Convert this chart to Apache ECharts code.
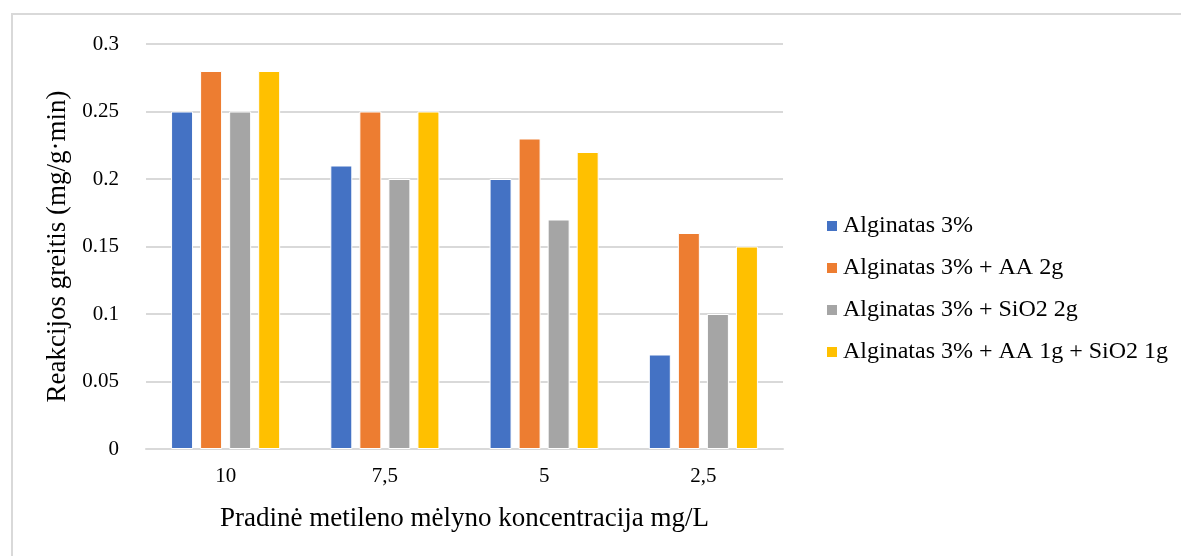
<!DOCTYPE html>
<html><head><meta charset="utf-8">
<script src="https://cdn.jsdelivr.net/npm/echarts@6/dist/echarts.min.js"></script>
<style>
html,body{margin:0;padding:0;background:#fff;}
#frame{position:absolute;left:11px;top:13px;width:1170px;height:543px;border-top:2px solid #d9d9d9;border-left:2px solid #d9d9d9;box-sizing:border-box;}
#c{position:absolute;left:0;top:0;width:1181px;height:556px;}
</style></head>
<body>
<div id="frame"></div>
<div id="c"></div>
<script>
const categories = ['10', '7,5', '5', '2,5'];
const seriesNames = ['Alginatas 3%', 'Alginatas 3% + AA 2g', 'Alginatas 3% + SiO2 2g', 'Alginatas 3% + AA 1g + SiO2 1g'];
const alg = [0.25, 0.21, 0.20, 0.07];
const algAA = [0.28, 0.25, 0.23, 0.16];
const algSi = [0.25, 0.20, 0.17, 0.10];
const algAASi = [0.28, 0.25, 0.22, 0.15];
const colors = ['#4472c4', '#ed7d31', '#a5a5a5', '#ffc000'];
const values = [alg, algAA, algSi, algAASi];

const font = 'Liberation Serif';
const chart = echarts.init(document.getElementById('c'));
chart.setOption({
  animation: false,
  color: colors,
  textStyle: {fontFamily: font, color: '#000'},
  grid: {left: 146, right: 398, top: 44, bottom: 107},
  legend: {
    orient: 'vertical', left: 825, top: 214, padding: 0,
    itemWidth: 12, itemHeight: 12, itemGap: 18,
    icon: 'rect',
    textStyle: {fontFamily: font, fontSize: 24, color: '#000'},
    data: seriesNames
  },
  xAxis: {
    type: 'category', data: categories,
    name: 'Pradinė metileno mėlyno koncentracija mg/L',
    nameLocation: 'middle', nameGap: 56,
    nameTextStyle: {fontFamily: font, fontSize: 27, color: '#000'},
    axisLine: {lineStyle: {color: '#d9d9d9', width: 2}},
    axisTick: {show: false},
    axisLabel: {fontFamily: font, fontSize: 21, color: '#000', margin: 17}
  },
  yAxis: {
    type: 'value', min: 0, max: 0.3, interval: 0.05,
    name: 'Reakcijos greitis (mg/g·min)',
    nameLocation: 'middle', nameGap: 72,
    nameTextStyle: {fontFamily: font, fontSize: 27, color: '#000'},
    axisLine: {show: false}, axisTick: {show: false},
    splitLine: {lineStyle: {color: '#d9d9d9', width: 2}},
    axisLabel: {fontFamily: font, fontSize: 21, color: '#000', margin: 27,
      formatter: v => String(Math.round(v*100)/100)}
  },
  series: values.map((d, i) => ({
    name: seriesNames[i], type: 'bar', data: d,
    barWidth: 22, barGap: '32%',
    itemStyle: {borderColor: '#fff', borderWidth: 1}
  }))
});
</script>
</body></html>
